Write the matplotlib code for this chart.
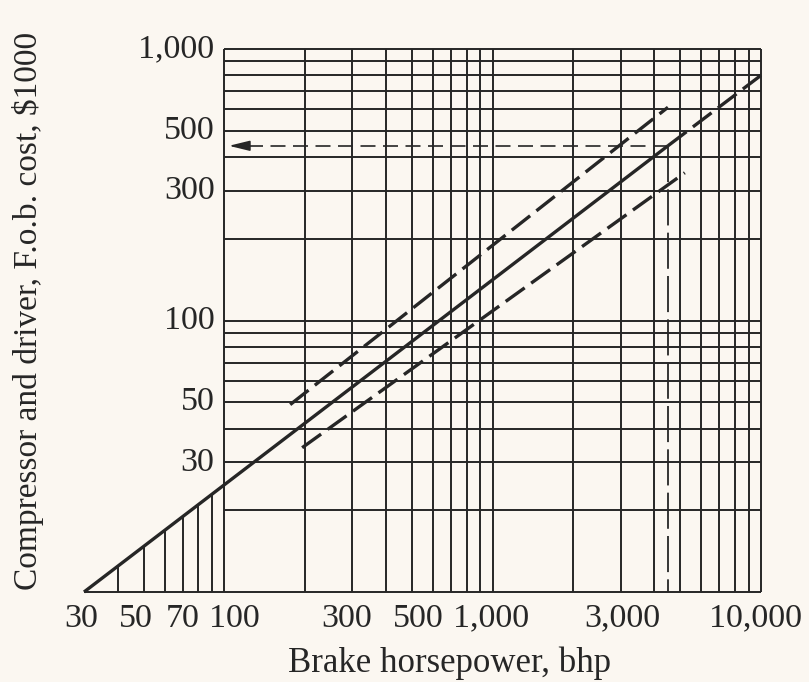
import matplotlib
matplotlib.use("Agg")
import matplotlib.pyplot as plt

# grid positions of the log paper
x_grid_major = [100, 200, 300, 400, 500, 600, 700, 800, 900,
                1000, 2000, 3000, 4000, 5000, 6000, 7000, 8000, 9000, 10000]
y_grid = [20, 30, 40, 50, 60, 70, 80, 90,
          100, 200, 300, 400, 500, 600, 700, 800, 900, 1000]

# short verticals under the line, below 100 bhp
x_short = [40, 50, 60, 70, 80, 90]
y_short_top = [12.4, 14.7, 16.9, 19.0, 20.9, 22.9]

# cost curve (solid) and its extension (dashed)
main_x = [30, 4500]
main_y = [10, 440]
ext_x = [4500, 10000]
ext_y = [440, 800]

# upper and lower limit bands
upper_x = [176, 4500]
upper_y = [49, 610]
lower_x = [195, 5200]
lower_y = [34, 350]

# example reading
read_x = 4500
read_y = 440

x_ticks = [30, 50, 70, 100, 300, 500, 1000, 3000, 10000]
x_tick_labels = ["30", "50", "70", "100", "300", "500", "1,000", "3,000", "10,000"]
y_ticks = [30, 50, 100, 300, 500, 1000]
y_tick_labels = ["30", "50", "100", "300", "500", "1,000"]

# small sideways nudges (pixels) the printed labels have
x_label_nudge = [-3, -8, 0, 10, -6, 6, -2, 2, -5]

ink = "#262626"
paper = "#fbf7f1"
plt.rcParams["font.family"] = ["Liberation Serif", "DejaVu Serif"]
fs = 24.5

fig = plt.figure(figsize=(8.09, 6.82), dpi=100)
fig.patch.set_facecolor(paper)
ax = fig.add_axes([84 / 809, 90 / 682, 677 / 809, 543 / 682])
ax.set_facecolor("none")
ax.set_xscale("log")
ax.set_yscale("log")
ax.set_xlim(30, 10000)
ax.set_ylim(10, 1000)
ax.axis("off")

glw = 1.4
ax.vlines(x_grid_major, 10, 1000, color=ink, lw=glw, clip_on=False)
ax.hlines(y_grid, 100, 10000, color=ink, lw=glw, clip_on=False)
ax.hlines(10, 30, 10000, color=ink, lw=glw, clip_on=False)
ax.vlines(x_short, 10, y_short_top, color=ink, lw=glw, clip_on=False)

# curves
ax.plot(main_x, main_y, color=ink, lw=2.4, solid_capstyle="butt", clip_on=False)
ax.plot(ext_x, ext_y, color=ink, lw=2.4, dashes=(7, 2.4), clip_on=False)
ax.plot(upper_x, upper_y, color=ink, lw=2.4, dashes=(7, 2.4))
ax.plot(lower_x, lower_y, color=ink, lw=2.4, dashes=(7, 2.4))

# reading lines
ax.plot([read_x, read_x], [read_y, 10], color=ink, lw=1.3, dashes=(20, 4), clip_on=False)
ax.plot([read_x, 118], [read_y, read_y], color=ink, lw=1.2, dashes=(9, 4.5))
ax.annotate("", xy=(104, read_y), xytext=(122, read_y),
            arrowprops=dict(arrowstyle="-|>,head_length=0.9,head_width=0.22",
                            lw=1.2, color=ink, mutation_scale=14, shrinkA=0, shrinkB=0))

# tick labels
for v, lab, dx in zip(x_ticks, x_tick_labels, x_label_nudge):
    ax.annotate(lab, xy=(v, 10), xytext=(dx * 0.72, -8), textcoords="offset points",
                ha="center", va="top", fontsize=fs, color=ink, annotation_clip=False)
for v, lab in zip(y_ticks, y_tick_labels):
    ax.annotate(lab, xy=(100, v), xytext=(-7, 0), textcoords="offset points",
                ha="right", va="center", fontsize=fs, color=ink)

fig.text(450 / 809, 1 - 672 / 682, "Brake horsepower, bhp", ha="center",
         va="baseline", fontsize=25, color=ink)
fig.text(28 / 809, 1 - 311 / 682, "Compressor and driver, F.o.b. cost, \\$1000",
         rotation=90, ha="center", va="center", fontsize=24, color=ink)

fig.savefig("out.png", dpi=100, facecolor=paper)
